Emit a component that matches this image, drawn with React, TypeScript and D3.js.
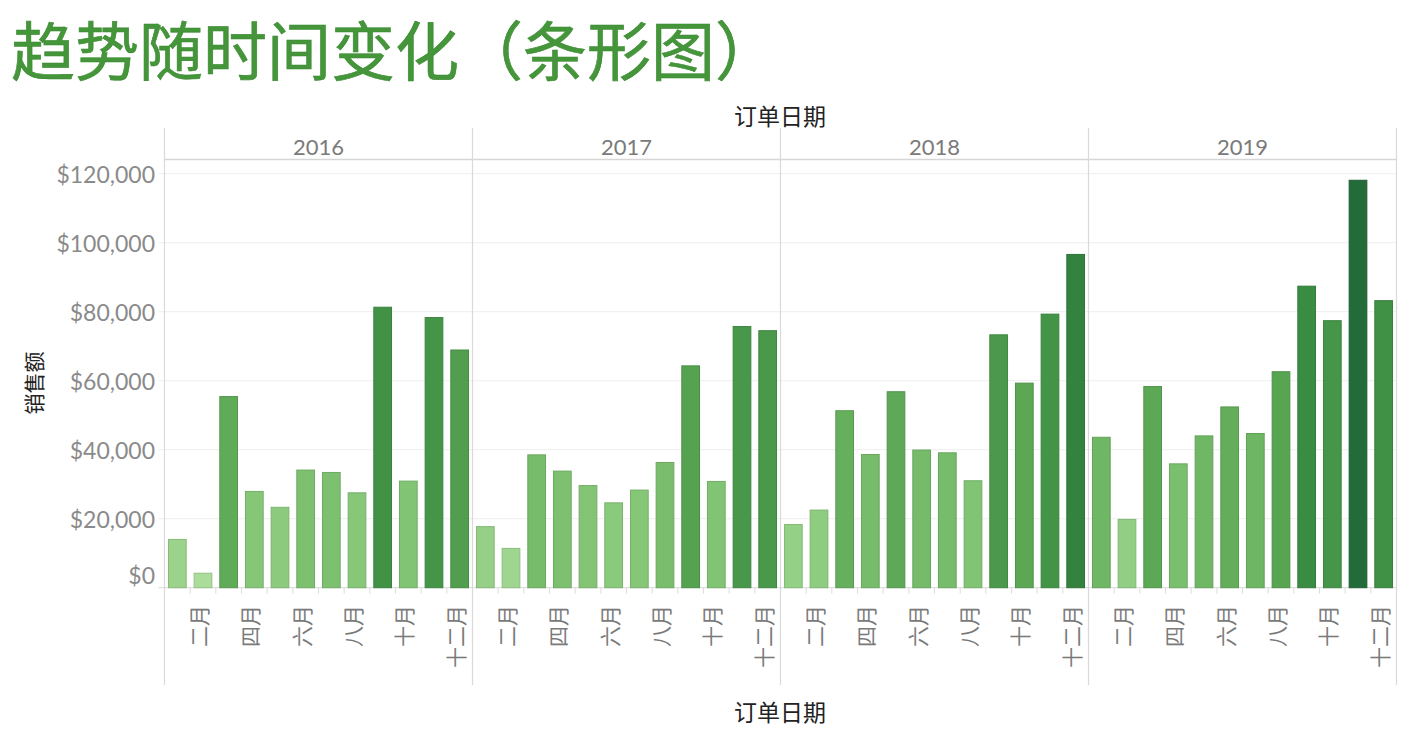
import React from "react";
import * as d3 from "d3";

const years = ["2016", "2017", "2018", "2019"];
const months = ["一月", "二月", "三月", "四月", "五月", "六月", "七月", "八月", "九月", "十月", "十一月", "十二月"];
const shownMonths = ["二月", "四月", "六月", "八月", "十月", "十二月"];
const sales2016 = [14000, 4200, 55400, 27900, 23300, 34100, 33400, 27500, 81300, 30900, 78300, 68900];
const sales2017 = [17700, 11400, 38500, 33800, 29600, 24600, 28300, 36300, 64300, 30800, 75700, 74500];
const sales2018 = [18300, 22500, 51300, 38600, 56800, 39900, 39100, 31000, 73300, 59300, 79300, 96600];
const sales2019 = [43600, 19800, 58300, 35900, 44000, 52400, 44700, 62600, 87400, 77400, 118100, 83200];
const yTicks = [0, 20000, 40000, 60000, 80000, 100000, 120000];
const seriesByYear = [sales2016, sales2017, sales2018, sales2019];

const W = 1413;
const H = 752;
const plotLeft = 164.5;
const panelW = 308;
const plotRight = plotLeft + panelW * years.length;
const yBase = 587.7;
const yTop = 173.7;

const latin = "Lato, 'Open Sans', 'Noto Sans', sans-serif";
const cjk = "'Noto Sans CJK SC', 'Noto Sans', sans-serif";

export default function App() {
  const y = d3.scaleLinear().domain([0, 120000]).range([yBase, yTop]);
  const xPanel = d3.scaleBand<string>().domain(years).range([plotLeft, plotRight]).padding(0);
  const xMonth = d3
    .scaleBand<string>()
    .domain(months)
    .range([0, panelW])
    .paddingInner(0.31)
    .paddingOuter(0.155);
  const color = d3
    .scaleLinear<string>()
    .domain([0, 30000, 60000, 90000, 120000])
    .range(["#b0e0a0", "#82c574", "#5aa653", "#388a41", "#226937"])
    .interpolate(d3.interpolateRgb);
  const fmt = (v: number) => "$" + d3.format(",")(v);

  return (
    <svg
      width={W}
      height={H}
      style={{ position: "absolute", left: 0, top: 0, display: "block", background: "#fff" }}
    >
      {/* Title */}
      <text x={11} y={75} fontFamily={cjk} fontSize={64} fontWeight={400} fill="#45953a" stroke="#3a8a31" strokeWidth={0.6}>
        趋势随时间变化（条形图）
      </text>

      {/* Top axis title */}
      <text x={780} y={125} textAnchor="middle" fontFamily={cjk} fontSize={23} fill="#222">
        订单日期
      </text>
      {/* Bottom axis title */}
      <text x={780} y={721} textAnchor="middle" fontFamily={cjk} fontSize={23} fill="#222">
        订单日期
      </text>
      {/* Y axis title */}
      <text
        transform={`translate(33, 383) rotate(-90)`}
        textAnchor="middle"
        dominantBaseline="central"
        fontFamily={cjk}
        fontSize={21}
        fill="#222"
      >
        销售额
      </text>

      {/* Gridlines */}
      {yTicks.map((t) => (
        <line
          key={"g" + t}
          x1={plotLeft - 6}
          x2={plotRight}
          y1={y(t)}
          y2={y(t)}
          stroke={t === 0 ? "#d9d9d9" : "#eeeeee"}
          strokeWidth={1}
        />
      ))}

      {/* Y tick labels */}
      {yTicks.map((t) => (
        <text
          key={"yl" + t}
          x={155}
          y={t === 0 ? y(t) - 13 : y(t)}
          textAnchor="end"
          dominantBaseline="central"
          fontFamily={latin}
          fontSize={23}
          fill="#8a8a8a"
        >
          {fmt(t)}
        </text>
      ))}

      {/* Header line */}
      <line x1={plotLeft} x2={plotRight} y1={159.5} y2={159.5} stroke="#d6d6d6" strokeWidth={1.5} />

      {/* Panels */}
      {years.map((yr, i) => {
        const px = xPanel(yr) as number;
        const data = seriesByYear[i];
        return (
          <g key={yr}>
            <text
              x={px + panelW / 2}
              y={146}
              textAnchor="middle"
              dominantBaseline="central"
              fontFamily={latin}
              fontSize={22}
              fill="#7a7a7a"
            >
              {yr}
            </text>
            {months.map((m, j) => {
              const v = data[j];
              const bx = px + (xMonth(m) as number);
              const c = color(v);
              return (
                <rect
                  key={m}
                  x={bx}
                  y={y(v)}
                  width={xMonth.bandwidth()}
                  height={yBase - y(v)}
                  fill={c}
                  stroke={d3.color(c)!.darker(0.35).toString()}
                  strokeWidth={1}
                />
              );
            })}
            {months.map((m, j) =>
              j === 0 ? null : (
                <line
                  key={"tk" + m}
                  x1={px + (xMonth(m) as number) - (xMonth.step() - xMonth.bandwidth()) / 2}
                  x2={px + (xMonth(m) as number) - (xMonth.step() - xMonth.bandwidth()) / 2}
                  y1={yBase}
                  y2={yBase + 6}
                  stroke="#dddddd"
                />
              )
            )}
            {months
              .filter((m) => shownMonths.includes(m))
              .map((m) => {
                const cx = px + (xMonth(m) as number) + xMonth.bandwidth() / 2 - 5;
                return (
                  <text
                    key={"xl" + m}
                    transform={`translate(${cx}, 605) rotate(-90)`}
                    textAnchor="end"
                    dominantBaseline="central"
                    fontFamily={cjk}
                    fontSize={21}
                    fill="#7a7a7a"
                  >
                    {m}
                  </text>
                );
              })}
          </g>
        );
      })}

      {/* Panel separators */}
      {d3.range(years.length + 1).map((k) => (
        <line
          key={"sep" + k}
          x1={plotLeft + k * panelW}
          x2={plotLeft + k * panelW}
          y1={128}
          y2={685}
          stroke="#d9d9d9"
          strokeWidth={1.2}
        />
      ))}
    </svg>
  );
}
